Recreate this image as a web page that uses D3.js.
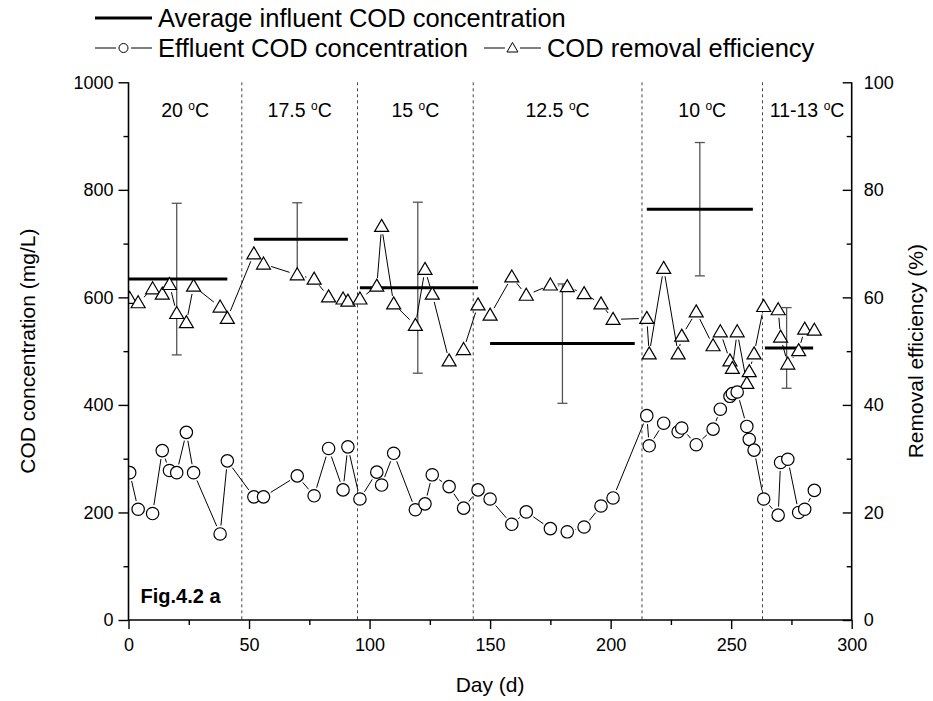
<!DOCTYPE html>
<html>
<head>
<meta charset="utf-8">
<script src="https://cdn.jsdelivr.net/npm/d3@7"></script>
<style>
body { margin: 0; background: #fff; }
text { font-family: "Liberation Sans", Arial, sans-serif; fill: #000; }
</style>
</head>
<body>
<div id="chart-area"></div>
<script>
/*
*    COD concentration and removal efficiency over time
*/

// sampling days (shared by both series)
var days = [0.5, 4, 10, 14, 17, 20, 24, 27, 38, 41,
    52, 56, 70, 77, 83, 89, 91,
    96, 103, 105, 110, 119, 123, 126, 133, 139, 145,
    150, 159, 165, 175, 182, 189, 196, 201,
    215, 216, 222, 228, 229.5, 235.5, 242.5, 245.5, 249.5, 250.5, 252.5, 256.5, 257.5, 259.5,
    263.5, 269.5, 270.5, 273.5, 278, 280.5, 284.5];

// effluent COD (mg/L)
var effluent = [274, 206, 198, 315, 278, 274, 349, 274, 160, 296,
    229, 229, 268, 231, 319, 242, 322,
    225, 275, 251, 310, 205, 216, 270, 248, 208, 242,
    225, 178, 201, 170, 164, 173, 212, 227,
    380, 324, 366, 350, 357, 326, 355, 392, 416, 421, 424, 360, 336, 316,
    225, 195, 293, 299, 200, 206, 241];

// COD removal efficiency (%)
var removal = [59.8, 59.0, 61.6, 60.6, 62.4, 57.0, 55.3, 62.1, 58.2, 56.1,
    68.1, 66.2, 64.2, 63.4, 60.1, 59.7, 59.3,
    59.7, 62.1, 73.2, 58.8, 54.8, 65.2, 60.6, 48.2, 50.3, 58.6,
    56.7, 63.8, 60.4, 62.3, 62.0, 60.7, 58.8, 55.9,
    56.1, 49.5, 65.4, 49.5, 52.8, 57.3, 51.0, 53.6, 48.2, 46.8, 53.6, 44.0, 46.2, 49.5,
    58.3, 57.7, 52.6, 47.6, 50.1, 54.1, 53.9];

// temperature phases
var phaseBounds = [47, 95, 143, 213, 263];
var phaseTemps = ["20", "17.5", "15", "12.5", "10", "11-13"];

// average influent COD per phase
var avgStart = [0, 52, 96, 150, 215, 264];
var avgEnd = [41, 91, 145, 210, 259, 284];
var avgInfluent = [634, 708, 618, 514, 764, 506];
var avgErrDay = [20, 70, 120, 180, 237, 273];
var avgErr = [141, 68, 159, 111, 124, 75];

// tick values
var xTicks = [0, 50, 100, 150, 200, 250, 300];
var xMinor = [25, 75, 125, 175, 225, 275];
var yTicks = [0, 200, 400, 600, 800, 1000];
var yMinor = [100, 300, 500, 700, 900];
var y2Ticks = [0, 20, 40, 60, 80, 100];
var y2Minor = [10, 30, 50, 70, 90];

var margin = { left: 128.5, right: 81.3, top: 82.3, bottom: 81 },
    width = 933 - margin.left - margin.right,
    height = 701 - margin.top - margin.bottom;

var svg = d3.select("#chart-area").append("svg")
    .attr("width", 933)
    .attr("height", 701);
var g = svg.append("g")
    .attr("transform", "translate(" + margin.left + "," + margin.top + ")");

svg.append("defs").append("clipPath")
    .attr("id", "plot-clip")
    .append("rect")
    .attr("width", width)
    .attr("height", height);

// Scales
var x = d3.scaleLinear().domain([0, 300]).range([0, width]);
var y = d3.scaleLinear().domain([0, 1000]).range([height, 0]);
var y2 = d3.scaleLinear().domain([0, 100]).range([height, 0]);

var font = "Liberation Sans, Arial, sans-serif";

// phase separators
g.selectAll(".phase-line")
    .data(phaseBounds)
    .enter().append("line")
    .attr("class", "phase-line")
    .attr("x1", d => x(d)).attr("x2", d => x(d))
    .attr("y1", 0).attr("y2", height)
    .attr("stroke", "#444")
    .attr("stroke-width", 1)
    .attr("stroke-dasharray", "3,3");

// phase labels, centred in each phase
var edges = [0].concat(phaseBounds, [300]);
var tLabels = g.selectAll(".phase-label")
    .data(phaseTemps)
    .enter().append("text")
    .attr("class", "phase-label")
    .attr("x", (d, i) => x((edges[i] + edges[i + 1]) / 2))
    .attr("y", 35)
    .attr("text-anchor", "middle")
    .attr("font-size", "19.5px");
tLabels.append("tspan").text(d => d + " ");
tLabels.append("tspan").attr("font-size", "12px").attr("dy", -7.5).text("o");
tLabels.append("tspan").attr("dy", 7.5).text("C");

// average influent lines with error bars
var avg = g.append("g").attr("class", "avg");
avg.selectAll(".err")
    .data(avgInfluent)
    .enter().append("line")
    .attr("x1", (d, i) => x(avgErrDay[i])).attr("x2", (d, i) => x(avgErrDay[i]))
    .attr("y1", (d, i) => y(d - avgErr[i])).attr("y2", (d, i) => y(d + avgErr[i]))
    .attr("stroke", "#555").attr("stroke-width", 1.3);
[-1, 1].forEach(function(s) {
    avg.selectAll(".cap" + s)
        .data(avgInfluent)
        .enter().append("line")
        .attr("x1", (d, i) => x(avgErrDay[i]) - 5).attr("x2", (d, i) => x(avgErrDay[i]) + 5)
        .attr("y1", (d, i) => y(d + s * avgErr[i])).attr("y2", (d, i) => y(d + s * avgErr[i]))
        .attr("stroke", "#555").attr("stroke-width", 1.3);
});
avg.selectAll(".avg-line")
    .data(avgInfluent)
    .enter().append("line")
    .attr("x1", (d, i) => x(avgStart[i])).attr("x2", (d, i) => x(avgEnd[i]))
    .attr("y1", d => y(d)).attr("y2", d => y(d))
    .attr("stroke", "#000").attr("stroke-width", 3);

// connecting lines that stop short of the markers
function gapLines(sel, xs, ys, gap) {
    sel.selectAll("line")
        .data(d3.range(xs.length - 1))
        .enter().append("line")
        .each(function(i) {
            var x1 = xs[i], y1 = ys[i], x2 = xs[i + 1], y2p = ys[i + 1];
            var dx = x2 - x1, dy = y2p - y1, len = Math.sqrt(dx * dx + dy * dy);
            if (len <= 2 * gap) { d3.select(this).remove(); return; }
            var ux = dx / len, uy = dy / len;
            d3.select(this)
                .attr("x1", x1 + ux * gap).attr("y1", y1 + uy * gap)
                .attr("x2", x2 - ux * gap).attr("y2", y2p - uy * gap);
        })
        .attr("stroke", "#000").attr("stroke-width", 1);
}

var data = g.append("g").attr("clip-path", "url(#plot-clip)");

var tri = "M0,-7L7,5L-7,5Z";

// removal efficiency
gapLines(data.append("g"), days.map(d => x(d)), removal.map(d => y2(d)), 8);
data.selectAll(".tri")
    .data(removal)
    .enter().append("path")
    .attr("class", "tri")
    .attr("d", tri)
    .attr("transform", (d, i) => "translate(" + x(days[i]) + "," + y2(d) + ")")
    .attr("fill", "#fff").attr("stroke", "#000").attr("stroke-width", 1.2);

// effluent COD
gapLines(data.append("g"), days.map(d => x(d)), effluent.map(d => y(d)), 8.5);
data.selectAll(".dot")
    .data(effluent)
    .enter().append("circle")
    .attr("class", "dot")
    .attr("cx", (d, i) => x(days[i]))
    .attr("cy", d => y(d))
    .attr("r", 6.2)
    .attr("fill", "#fff").attr("stroke", "#000").attr("stroke-width", 1.2);

// Axes
function minorTicks(axisG, call) {
    axisG.append("g").call(call).call(a => a.selectAll("text").remove())
        .call(a => a.select(".domain").remove());
}

var xAxis = g.append("g")
    .attr("transform", "translate(0," + height + ")")
    .call(d3.axisBottom(x).tickValues(xTicks).tickSize(9).tickPadding(9));
minorTicks(xAxis, d3.axisBottom(x).tickValues(xMinor).tickSize(5));

var yAxis = g.append("g")
    .call(d3.axisLeft(y).tickValues(yTicks).tickFormat(d3.format("d")).tickSize(10).tickPadding(5));
minorTicks(yAxis, d3.axisLeft(y).tickValues(yMinor).tickSize(5));

var y2Axis = g.append("g")
    .attr("transform", "translate(" + width + ",0)")
    .call(d3.axisRight(y2).tickValues(y2Ticks).tickSizeInner(-9).tickSizeOuter(0).tickPadding(12));
minorTicks(y2Axis, d3.axisRight(y2).tickValues(y2Minor).tickSizeInner(-5).tickSizeOuter(0));

[xAxis, yAxis, y2Axis].forEach(function(a) {
    a.selectAll(".domain").attr("stroke", "#000").attr("stroke-width", 1.6);
    a.selectAll(".tick line").attr("stroke", "#000").attr("stroke-width", 1.4);
    a.selectAll("text").attr("font-family", font).attr("font-size", "18px").attr("fill", "#000");
});
// plain axis lines without outer end ticks
xAxis.select(".domain").attr("d", "M0,0H" + width);
yAxis.select(".domain").attr("d", "M0,0V" + height);
y2Axis.select(".domain").attr("d", "M0,0V" + height);

// labels
g.append("text")
    .attr("x", width / 2)
    .attr("y", height + 72)
    .attr("text-anchor", "middle")
    .attr("font-size", "21px")
    .text("Day (d)");
g.append("text")
    .attr("transform", "rotate(-90)")
    .attr("x", -height / 2)
    .attr("y", -94)
    .attr("text-anchor", "middle")
    .attr("font-size", "21px")
    .text("COD concentration (mg/L)");
g.append("text")
    .attr("transform", "rotate(-90)")
    .attr("x", -height / 2)
    .attr("y", width + 71)
    .attr("text-anchor", "middle")
    .attr("font-size", "21px")
    .text("Removal efficiency (%)");

g.append("text")
    .attr("x", 12)
    .attr("y", height - 17)
    .attr("font-size", "20px")
    .attr("font-weight", "bold")
    .text("Fig.4.2 a");

// legend
var legendFont = "25.5px";
var legend = svg.append("g").attr("class", "legend");
legend.append("line")
    .attr("x1", 95).attr("x2", 152).attr("y1", 18).attr("y2", 18)
    .attr("stroke", "#000").attr("stroke-width", 3);
legend.append("text")
    .attr("x", 158).attr("y", 18).attr("dy", "0.35em")
    .attr("font-size", legendFont)
    .text("Average influent COD concentration");

function legendItem(x0, yy, symbol, label) {
    var it = legend.append("g");
    it.append("line").attr("x1", x0).attr("x2", x0 + 21).attr("y1", yy).attr("y2", yy)
        .attr("stroke", "#000").attr("stroke-width", 1);
    it.append("line").attr("x1", x0 + 36).attr("x2", x0 + 57).attr("y1", yy).attr("y2", yy)
        .attr("stroke", "#000").attr("stroke-width", 1);
    if (symbol == "circle") {
        it.append("circle").attr("cx", x0 + 28.5).attr("cy", yy).attr("r", 4.5)
            .attr("fill", "#fff").attr("stroke", "#000").attr("stroke-width", 1);
    } else {
        it.append("path").attr("d", "M0,-5.5L5.5,4L-5.5,4Z")
            .attr("transform", "translate(" + (x0 + 28.5) + "," + yy + ")")
            .attr("fill", "#fff").attr("stroke", "#000").attr("stroke-width", 1);
    }
    var t = it.append("text")
        .attr("x", x0 + 63).attr("y", yy).attr("dy", "0.35em")
        .attr("font-size", legendFont)
        .text(label);
    return x0 + 63 + t.node().getComputedTextLength();
}
var end1 = legendItem(95, 48, "circle", "Effluent COD concentration");
legendItem(end1 + 16, 48, "triangle", "COD removal efficiency");
</script>
</body>
</html>
